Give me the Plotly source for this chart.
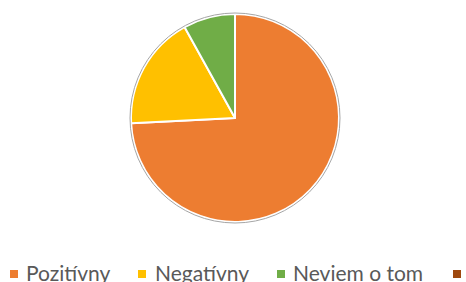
import plotly.graph_objects as go

categories = ["Pozitívny", "Negatívny", "Neviem o tom", "Nevyjadrujem sa"]
values = [46, 11, 5, 0]
colors = ["#ED7D31", "#FFC000", "#70AD47", "#9E480E"]

W, H = 466, 282
cx, cy, r = 235, 118, 104

fig = go.Figure(go.Pie(
    labels=categories, values=values, sort=False, direction="clockwise", rotation=0,
    marker=dict(colors=colors, line=dict(color="white", width=2)),
    textinfo="none", hoverinfo="label+percent", showlegend=False,
    domain=dict(x=[(cx - r) / W, (cx + r) / W], y=[(H - cy - r) / H, (H - cy + r) / H]),
))

fig.add_shape(type="circle", xref="paper", yref="paper",
              x0=(cx - r - 1) / W, x1=(cx + r + 1) / W,
              y0=(H - cy - r - 1) / H, y1=(H - cy + r + 1) / H,
              line=dict(color="#A6A6A6", width=1))

# legend drawn manually (4th label is cut off at the right edge in the reference)
leg_marker_x = [10, 138, 277, 453]
leg_text_x = [27, 156, 294, None]
for name, col, mx, tx in zip(categories, colors, leg_marker_x, leg_text_x):
    fig.add_shape(type="rect", xref="paper", yref="paper",
                  x0=mx / W, x1=(mx + 8) / W, y0=(H - 278) / H, y1=(H - 270) / H,
                  fillcolor=col, line=dict(width=0))
    if tx is not None:
        fig.add_annotation(text=name, xref="paper", yref="paper", x=(tx - 3) / W, y=(H - 272) / H,
                           xanchor="left", yanchor="middle", showarrow=False,
                           font=dict(family="Lato", size=21, color="#595959"))

fig.update_layout(
    width=W, height=H, margin=dict(l=0, r=0, t=0, b=0),
    paper_bgcolor="white", plot_bgcolor="white",
)
fig.write_html("out.html", config={"displayModeBar": False},
               post_script="document.body.style.margin='0';document.body.style.overflow='hidden';")
